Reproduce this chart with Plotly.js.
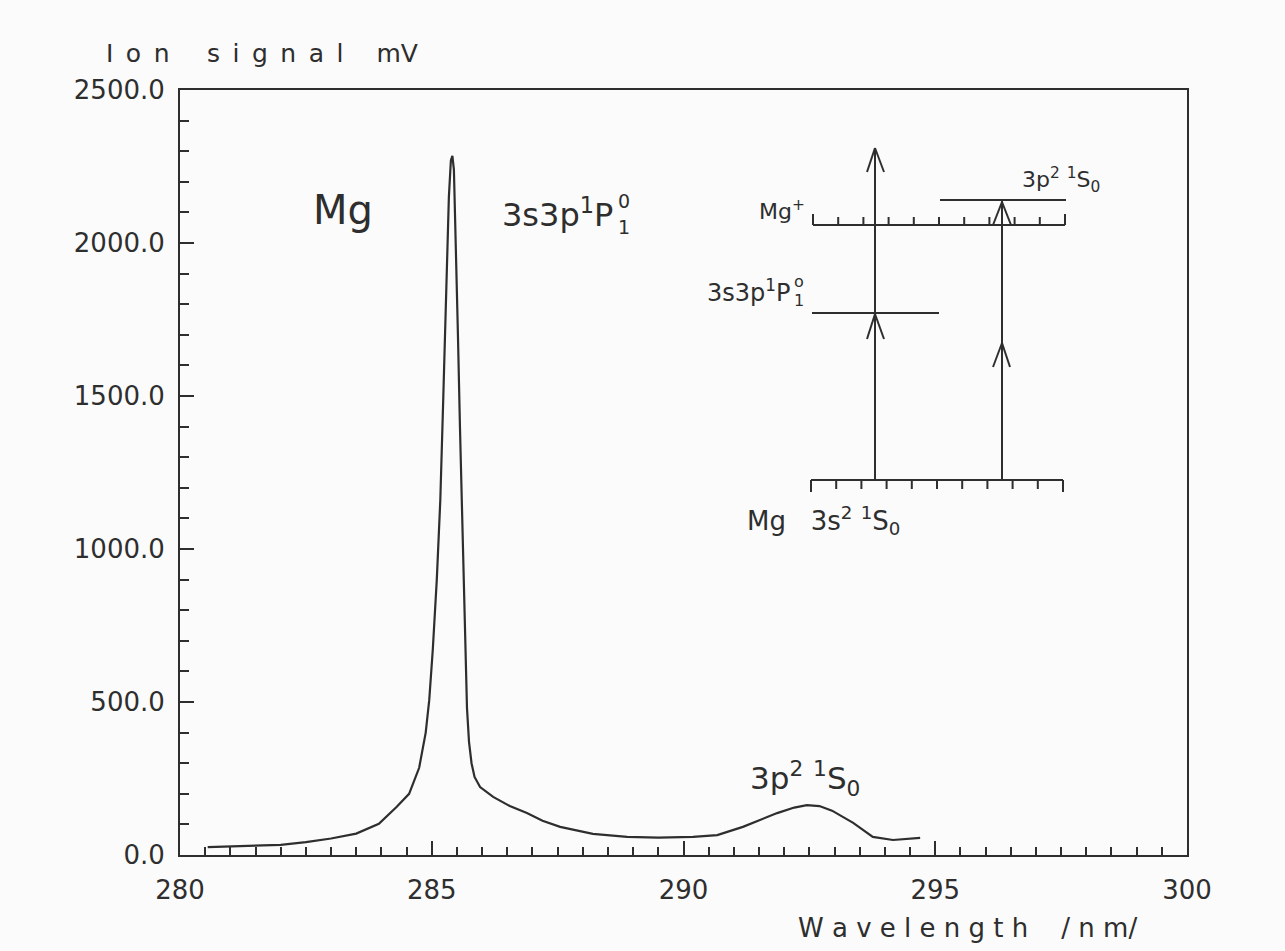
<!DOCTYPE html>
<html>
<head>
<meta charset="utf-8">
<script src="https://cdn.plot.ly/plotly-3.0.1.min.js"></script>
<style>html,body{margin:0;padding:0;background:#fbfbfb;}#chart{width:1285px;height:951px;}</style>
</head>
<body>
<div id="chart"></div>
<script>
// Wavelength (nm) and ion signal (mV)
const wavelength = [280.55, 281.0, 281.5, 282.0, 282.5, 283.0, 283.5, 283.95, 284.3, 284.55, 284.75, 284.88, 284.95, 285.02, 285.1, 285.17, 285.23, 285.29, 285.34, 285.38, 285.41, 285.44, 285.48, 285.52, 285.56, 285.61, 285.66, 285.70, 285.74, 285.79, 285.85, 285.96, 286.22, 286.55, 286.89, 287.2, 287.55, 288.2, 288.88, 289.5, 290.19, 290.67, 291.18, 291.86, 292.2, 292.45, 292.7, 292.95, 293.37, 293.76, 294.16, 294.7];
const ionSignal  = [26,    28,    30,    33,    42,    54,    70,    102,    157,   200,   285,   400,   506,   670,   900,   1160,  1500,  1850,  2150,  2270,  2285,  2240,  2000,  1700,  1400,  1050,  700,   480,   370,   300,   255,   222,   190,   160,   137,   112,   92,    69,    59,    57,    59,    65,    92,    137,   155,   163,   160,   145,   105,   59,    49,    56];

const xTickVals = [280, 285, 290, 295, 300];
const yTickVals = [0, 500, 1000, 1500, 2000, 2500];

// plot-area pixel frame
const L = 180, R = 1187, T = 90, B = 855;
const px = x => (x - L) / (R - L);
const py = y => (B - y) / (B - T);
const ink = '#2e2e2e';
const FONT = 'DejaVu Sans, Noto Sans, sans-serif';

const shapes = [];
function seg(x0, y0, x1, y1, w) {
  shapes.push({type: 'line', xref: 'paper', yref: 'paper', x0: px(x0), y0: py(y0), x1: px(x1), y1: py(y1),
    line: {color: ink, width: w || 2}});
}
// Mg+ ionisation level with upward ticks
seg(813, 225, 1065, 225);
for (let i = 0; i <= 10; i++) {
  const x = 813 + i * 25.2;
  seg(x, 225, x, (i === 0 || i === 10) ? 214 : 217);
}
// ground level with downward ticks
seg(811, 480, 1063, 480);
for (let i = 0; i <= 10; i++) {
  const x = 811 + i * 25.2;
  seg(x, 480, x, (i === 0 || i === 10) ? 492 : 489);
}
// intermediate levels
seg(812, 313, 939, 313);
seg(940, 200, 1066, 200);
// left arrow (two-photon ionisation)
seg(875, 480, 875, 148);
seg(867, 172, 875, 148); seg(875, 148, 884, 172);
seg(867, 339, 875, 314); seg(875, 314, 884, 339);
// right arrow (two-photon to 3p2 level)
seg(1002, 480, 1002, 201);
seg(993, 367, 1002, 343); seg(1002, 343, 1010, 367);
seg(993, 225, 1002, 202); seg(1002, 202, 1011, 225);

function txt(text, x, y, size, anchor) {
  return {text: text, xref: 'paper', yref: 'paper', x: px(x), y: py(y), xanchor: anchor || 'left', yanchor: 'middle',
    showarrow: false, font: {family: FONT, size: size, color: ink}};
}
const nb = '\u00a0', en = '\u2002';
const spaced = (s, g) => s.split('').join(g);
const annotations = [
  txt(spaced('Ion', en) + en + en + en + spaced('signal', en) + en + en + nb + 'mV', 104, 54, 25),
  txt(spaced('Wavelength', nb) + nb + nb + nb + nb + '/' + nb + 'n' + nb + 'm' + '/', 796, 928, 26),
  txt('Mg', 311, 210, 40),
  txt('3s3p<sup>1</sup>P', 500, 213, 32),
  txt('0', 616, 201, 19),
  txt('1', 616, 227, 19),
  txt('3p<sup>2</sup> <sup>1</sup>S<sub>0</sub>', 748, 778, 31),
  txt('Mg<sup>+</sup>', 757, 210, 22),
  txt('3s3p<sup>1</sup>P', 705, 291, 24),
  txt('o', 792, 281, 16),
  txt('1', 792, 300, 16),
  txt('3p<sup>2</sup> <sup>1</sup>S<sub>0</sub>', 1020, 180, 22),
  txt('Mg' + nb + nb + nb + '3s<sup>2</sup> <sup>1</sup>S<sub>0</sub>', 745, 520, 26)
];

const trace = {
  x: wavelength, y: ionSignal, type: 'scatter', mode: 'lines',
  line: {color: ink, width: 2.2}, hoverinfo: 'x+y'
};

const layout = {
  width: 1285, height: 951,
  margin: {l: L, r: 1285 - R, t: T, b: 951 - B, pad: 0},
  paper_bgcolor: '#fbfbfb', plot_bgcolor: '#fbfbfb',
  showlegend: false,
  font: {family: FONT, color: ink},
  xaxis: {
    range: [280, 300], tickvals: xTickVals, ticks: 'inside', ticklen: 14, tickwidth: 2, tickcolor: ink,
    minor: {dtick: 0.5, ticks: 'inside', ticklen: 8, tickwidth: 2, tickcolor: ink},
    showline: true, linecolor: ink, linewidth: 2, mirror: true, showgrid: false, zeroline: false,
    tickfont: {family: FONT, size: 26, color: ink}, ticklabelstandoff: 11
  },
  yaxis: {
    range: [0, 2500], tickvals: yTickVals, tickformat: '.1f', ticks: 'inside', ticklen: 14, tickwidth: 2, tickcolor: ink,
    minor: {dtick: 100, ticks: 'inside', ticklen: 9, tickwidth: 2, tickcolor: ink},
    showline: true, linecolor: ink, linewidth: 2, mirror: true, showgrid: false, zeroline: false,
    tickfont: {family: FONT, size: 26, color: ink}, ticklabelstandoff: 8
  },
  shapes: shapes,
  annotations: annotations
};

Plotly.newPlot('chart', [trace], layout, {displayModeBar: false, staticPlot: true});
</script>
</body>
</html>
